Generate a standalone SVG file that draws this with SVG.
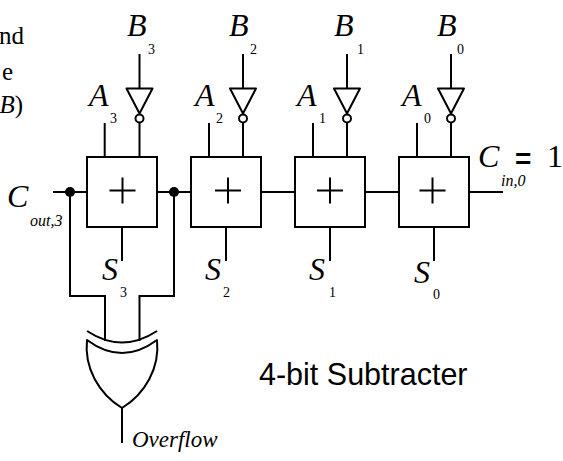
<svg xmlns="http://www.w3.org/2000/svg" width="563" height="461" viewBox="0 0 563 461">
<style>
.w{fill:none;stroke:#000;stroke-width:2}
.b{fill:#fff;stroke:#000;stroke-width:2}
.g{fill:none;stroke:#000;stroke-width:2;stroke-linejoin:round}
.v{font-family:"Liberation Serif",serif;font-style:italic;font-size:32px;fill:#000}
.s{font-family:"Liberation Serif",serif;font-size:14px;fill:#000}
.si{font-family:"Liberation Serif",serif;font-style:italic;font-size:16px;fill:#000}
.c{font-family:"Liberation Serif",serif;font-size:25px;fill:#000}
</style>
<defs>
<g id="inv"><path class="g" d="M-13,0H13L0,25Z"/><circle class="b" cy="30" r="4"/></g>
<g id="plus"><path class="w" d="M-13,0H13M0,-13V13"/></g>
</defs>
<rect width="563" height="461" fill="#fff"/>
<g id="connectors">
<path class="w" d="M53,192H87M157,192H191M261,192H295M365,192H399M469,192H503"/>
<path class="w" d="M139.500,54V89M139.500,122V157M243,54V89M243,122V157M347,54V89M347,122V157M451,54V89M451,122V157"/>
<path class="w" d="M104.700,123V157M209,123V157M313,123V157M417,123V157"/>
<path class="w" d="M122,227V261M226,227V261M330,227V261M434,227V261"/>
<path class="w" d="M70,192V296H105V341M174,192V296H139.500V341M122,408V443"/>
<circle cx="70" cy="192" r="5"/><circle cx="174" cy="192" r="5"/>
</g>
<g id="left-text"><text class="c" x="24" y="44" text-anchor="end">nd</text><text class="c" x="13" y="80" text-anchor="end">e</text><text class="c" x="23" y="113" text-anchor="end"><tspan font-style="italic">B</tspan>)</text></g>
<g id="add3"><rect class="b" x="87" y="157" width="70" height="70"/><use href="#plus" x="122.500" y="190.500"/></g>
<g id="add2"><rect class="b" x="191" y="157" width="70" height="70"/><use href="#plus" x="228" y="190.500"/></g>
<g id="add1"><rect class="b" x="295" y="157" width="70" height="70"/><use href="#plus" x="330" y="190.500"/></g>
<g id="add0"><rect class="b" x="399" y="157" width="70" height="70"/><use href="#plus" x="432.500" y="190.500"/></g>
<g id="inv3"><use href="#inv" x="139.500" y="88.500"/></g>
<g id="inv2"><use href="#inv" x="243" y="88.500"/></g>
<g id="inv1"><use href="#inv" x="347" y="88.500"/></g>
<g id="inv0"><use href="#inv" x="451" y="88.500"/></g>
<g id="xor"><path class="g" d="M87,331Q122,354 157,331"/><path class="g" d="M87,340Q122,366 157,340C160,368 145,394 122,408C99,394 84,368 87,340Z" fill="#fff"/></g>
<g id="labels">
<text class="v" x="127" y="36">B</text><text class="s" x="148" y="54">3</text>
<text class="v" x="229" y="36">B</text><text class="s" x="250" y="54">2</text>
<text class="v" x="334" y="36">B</text><text class="s" x="357" y="54">1</text>
<text class="v" x="437" y="36">B</text><text class="s" x="457" y="54">0</text>
<text class="v" x="89" y="106">A</text><text class="s" x="110" y="123">3</text>
<text class="v" x="195" y="106">A</text><text class="s" x="216" y="123">2</text>
<text class="v" x="297" y="106">A</text><text class="s" x="319" y="123">1</text>
<text class="v" x="402" y="106">A</text><text class="s" x="424" y="123">0</text>
<text class="v" x="7" y="207">C</text><text class="si" x="30" y="226">out,3</text>
<text class="v" x="478" y="167">C</text><text class="si" x="501" y="186">in,0</text>
<text x="515" y="168" font-family="Liberation Sans,sans-serif" font-size="28" font-weight="bold">=</text><text x="547" y="167" font-family="Liberation Serif,serif" font-size="32">1</text>
<text class="v" x="102" y="280">S</text><text class="s" x="120" y="297">3</text>
<text class="v" x="205" y="280">S</text><text class="s" x="223" y="297">2</text>
<text class="v" x="309" y="280">S</text><text class="s" x="329" y="297">1</text>
<text class="v" x="414" y="283">S</text><text class="s" x="433" y="299">0</text>
<text x="132" y="447" font-family="Liberation Serif,serif" font-style="italic" font-size="23">Overflow</text>
<text x="259" y="385" font-family="Liberation Sans,sans-serif" font-size="30.500">4-bit Subtracter</text>
</g>
</svg>
